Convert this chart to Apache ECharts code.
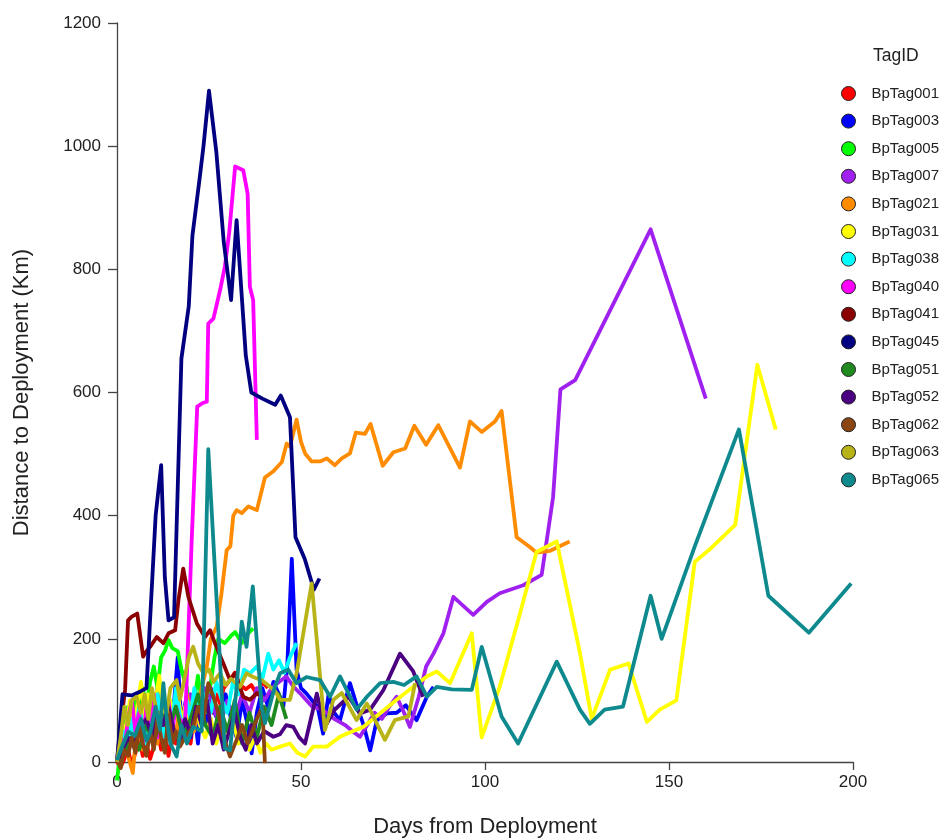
<!DOCTYPE html>
<html>
<head>
<meta charset="utf-8">
<script src="https://cdn.jsdelivr.net/npm/echarts@6/dist/echarts.min.js"></script>
<style>
html,body{margin:0;padding:0;background:#fff;}
#chart{width:945px;height:838px;}
</style>
</head>
<body>
<div id="chart"></div>
<script>
// ---- data: [days from deployment, distance km] ----
const tagNames = ["BpTag001","BpTag003","BpTag005","BpTag007","BpTag021","BpTag031","BpTag038","BpTag040","BpTag041","BpTag045","BpTag051","BpTag052","BpTag062","BpTag063","BpTag065"];
const tagColors = ["#FF0000","#0000FF","#00FF00","#A020F0","#FF8C00","#FFFF00","#00FFFF","#FF00FF","#8B0000","#000080","#1F8A1F","#4B0082","#8B4513","#B8B418","#0E8A8E"];
const xTicks = [0,50,100,150,200];
const yTicks = [0,200,400,600,800,1000,1200];

const bpTag001 = [[0,0],[1,-8],[2,5],[3,20],[4,-5],[5,15],[6,40],[7,10],[8,30],[9,5],[10,25],[11,50],[12,20],[13,40],[14,10],[15,45],[16,30],[17,70],[18,40],[19,60],[20,30],[21,80],[22,50],[23,90],[24,60],[25,100],[26,80],[27,110],[28,95],[29,120],[30.7,133],[32,145],[33.5,125],[35,118],[36.5,125],[38,110],[39.5,130],[41,120]];
const bpTag003 = [[0,0],[1,30],[2,60],[3,20],[4,80],[5,40],[6,100],[7,50],[8,30],[9,90],[10,60],[11,120],[12,70],[13,40],[14,90],[15,60],[16.5,170],[17.5,60],[19,110],[20,40],[21,80],[22,30],[23,100],[24,60],[25.5,120],[26.5,80],[28,60],[29.5,110],[31,70],[32.5,40],[34,100],[35.5,60],[36.6,14],[38,80],[39.5,120],[41,90],[42.5,130],[44,110],[45.2,90],[46.3,160],[47.5,330],[48.8,150],[50,120],[51.5,111],[53,100],[54.5,90],[56,46],[57.5,110],[59,80],[60.6,68],[63.3,128],[65,95],[67,60],[68.8,19],[70.6,68],[73.3,79],[76,80],[78.5,92],[81.4,68],[84.2,106],[86,122]];
const bpTag005 = [[0,-30],[1,20],[2,50],[3,90],[4,60],[5,100],[6,70],[7,120],[8,90],[9,130],[10,155],[11,120],[12,170],[13,180],[14,198],[15,185],[16.5,180],[17.5,150],[19,120],[20,60],[21,100],[22,140],[23,100],[24,80],[25.5,130],[26.5,170],[27.5,200],[29.3,193],[31,205],[32.1,211],[33.9,193],[35,205],[37,217]];
const bpTag007 = [[0,0],[2,30],[4,60],[6,40],[8,80],[10,50],[12,90],[14,60],[16,100],[18,70],[20,110],[22,80],[24,120],[26,90],[28,60],[30,100],[32,70],[34,110],[36,80],[38,120],[40,100],[42,120],[44,130],[46,139],[48,122],[50,110],[53,90],[56,85],[59,70],[62,60],[64,50],[66,41],[68,60],[70,80],[72,70],[74,90],[76,106],[78,80],[79.6,57],[82,106],[84,155],[86,176],[88.7,209],[91.4,268],[96.8,239],[100.5,260],[104,274],[110.4,287],[115.4,304],[118.5,430],[120.5,605],[124.5,620],[145,865],[160,590]];
const bpTag021 = [[0,0],[1,20],[2,40],[3,10],[4.3,-18],[5,30],[6,60],[7,20],[8,80],[9,40],[10,70],[11,30],[12,90],[13,50],[14,100],[15,70],[16,40],[17,90],[18,60],[19,110],[20,80],[21,50],[22,90],[23,120],[24.4,155],[25.5,200],[27.1,220],[28.4,274],[29.8,344],[30.8,350],[31.6,400],[32.5,409],[33.9,404],[35.7,415],[38,409],[40.2,462],[42.5,472],[44.8,487],[46.1,517],[47,512],[48.8,556],[50,520],[51.1,501],[52.9,488],[55.2,488],[57,493],[59.2,482],[61.1,493],[63.3,501],[64.9,535],[67.4,533],[68.9,549],[72.2,481],[75.1,503],[78.3,509],[80.8,546],[84,515],[87.3,547],[93.2,478],[95.9,553],[99.1,536],[102.7,553],[104.5,570],[108.6,365],[112,350],[114,340],[117.7,343],[123,358]];
const bpTag031 = [[0,0],[1,30],[2.6,63],[3.5,100],[4.5,50],[5.5,90],[6.5,130],[7.5,70],[8.5,110],[9.5,60],[10.5,100],[11.5,140],[12.5,80],[13.5,50],[14.5,100],[15.5,70],[16.5,120],[17.5,60],[18.5,90],[19.5,40],[20.5,80],[21.5,100],[22.5,60],[24,40],[25.5,70],[27,30],[28.5,60],[30,40],[31.5,70],[33,30],[34.5,50],[36,20],[37.5,40],[39,15],[40.5,30],[42,20],[44.3,25],[47,30],[49,15],[51.1,9],[53.3,25],[57,25],[60.6,41],[62.4,46],[66.9,57],[71.5,79],[76,101],[80.5,122],[84.2,139],[86.9,147],[90.5,128],[96.4,209],[99.1,40],[104,122],[109.5,241],[114,341],[119.5,358],[125.8,177],[129,70],[134,150],[139,160],[144,65],[147.5,85],[152,100],[157,325],[161,345],[168,385],[174,645],[179,540]];
const bpTag038 = [[0,0],[1,20],[2,50],[3,30],[4,70],[5,40],[6,90],[7,60],[8,30],[9,80],[10,50],[11,110],[12,70],[13,40],[14,90],[15,60],[16,120],[17,80],[18,50],[19,100],[20,70],[21,120],[22,90],[23,60],[24,110],[25.5,80],[27,130],[28.5,100],[30,80],[31.5,130],[33,110],[34.5,150],[36.1,144],[38,155],[39.5,135],[41.1,176],[42.5,150],[44,165],[45.5,145],[47,170],[48.8,193]];
const bpTag040 = [[0,0],[1,40],[2,20],[3,70],[4,100],[5,50],[6,80],[7,30],[8,90],[9,60],[10,110],[11,40],[12,80],[13,60],[14,100],[15,50],[16,90],[17,70],[18.5,60],[20.3,360],[21.8,577],[23.3,583],[24.4,585],[24.8,712],[26.2,720],[28,766],[29.3,804],[30.5,860],[32.1,967],[34.3,961],[35.5,923],[36.1,772],[37,750],[38,523]];
const bpTag041 = [[0,0],[1,60],[2.2,117],[3,230],[4,236],[5.5,241],[7.1,171],[8,180],[9,187],[10.8,203],[12.6,193],[14,209],[15.8,214],[16.7,263],[18,314],[19.4,268],[21.7,225],[23.9,203],[25.3,214],[26.6,193],[28.9,160],[30.7,133],[32.1,144],[34.3,106],[36.1,101],[38,112],[39.5,105]];
const bpTag045 = [[0,0],[1.5,110],[4,108],[6.5,115],[8,120],[10.5,400],[12,482],[13,300],[14,230],[15.5,235],[17.5,655],[19.5,740],[20.5,855],[22.5,950],[23.5,1000],[25,1090],[27,990],[29,845],[31,750],[32.5,880],[35,660],[36.5,600],[39.5,590],[43,580],[44.5,595],[47,560],[48.5,365],[51,330],[52.5,300],[53.5,280],[55,298]];
const bpTag051 = [[0,0],[2,15],[4,40],[6,20],[8,60],[10,30],[12,80],[14,50],[16,90],[18,40],[20,70],[22,110],[24,60],[26,40],[28,90],[30,50],[32,100],[34,30],[36,80],[38,40],[40,90],[42,60],[44,110],[46,70]];
const bpTag052 = [[0,0],[1.5,20],[3,40],[4.5,25],[6.3,57],[8,70],[9.5,40],[11,80],[12.5,60],[14,90],[15.5,50],[17,30],[18.5,70],[20,45],[21.5,90],[23,60],[24.5,100],[26,30],[27.5,60],[29,20],[30.5,50],[32,80],[33.5,40],[35,20],[36.5,60],[38,30],[40,50],[42.5,41],[44.3,45],[46,60],[47.9,57],[49.5,40],[51.1,30],[54.3,111],[56.5,57],[59.2,85],[62.9,106],[66,79],[68.8,85],[72.4,117],[76.9,176],[80.5,147],[83.2,106]];
const bpTag062 = [[0,5],[1,-10],[2,20],[3,10],[4,40],[5,15],[6,60],[7,30],[8,10],[9,50],[10,20],[11,70],[12,40],[13,15],[14,80],[15,30],[16,50],[17.1,25],[18.5,40],[20.7,57],[22,90],[23.5,70],[24.8,128],[26.2,106],[27.5,80],[29,40],[30.7,9],[32.5,36],[34,60],[35.5,30],[36.6,47],[38,70],[39.5,90],[40.2,-2]];
const bpTag063 = [[0,0],[1,40],[2,90],[3,60],[4,100],[5.3,106],[6.5,80],[7.5,110],[8.5,70],[9.5,120],[10.5,90],[11.5,60],[12.5,100],[13.5,80],[14.5,120],[16.2,133],[17.1,101],[18.5,140],[19.5,170],[20.7,187],[22,160],[23.5,144],[25,150],[26.2,130],[28,144],[29.5,125],[31,135],[33.4,122],[35.2,144],[37,138],[39.3,133],[41,125],[43,115],[44.3,101],[47,101],[48.8,144],[52.9,290],[56.5,52],[58.8,101],[61.1,112],[65.1,68],[67.9,95],[72.8,36],[75.5,68],[79.2,74],[81,128]];
const bpTag065 = [[0,3],[1.7,30],[3.1,49],[4.9,43],[6.5,70],[8,35],[9,47],[10.5,90],[11.7,52],[12.6,128],[13.5,70],[14.5,30],[16.2,9],[17.5,60],[19,30],[20.7,57],[23,50],[24.8,508],[29.3,22],[30.7,19],[32.5,120],[33.9,228],[35.2,187],[36.9,285],[39.3,90],[40.2,63],[42.9,122],[44.3,144],[46.5,150],[48.8,128],[51.5,138],[55.2,133],[57.9,106],[60.6,139],[65.1,85],[67.9,106],[71.5,128],[75.1,130],[78,125],[81.4,139],[84.2,106],[86.9,122],[91,118],[96.4,117],[99.1,187],[104.5,74],[109,30],[119.5,163],[125.8,85],[128.5,62],[132.5,85],[137.5,90],[145,270],[148,200],[157,350],[169,540],[177,270],[188,210],[199.5,290]];

const tagData = [bpTag001,bpTag003,bpTag005,bpTag007,bpTag021,bpTag031,bpTag038,bpTag040,bpTag041,bpTag045,bpTag051,bpTag052,bpTag062,bpTag063,bpTag065];

const FONT = "'Liberation Sans', Arial, sans-serif";
const chart = echarts.init(document.getElementById('chart'), null, {renderer:'canvas'});

const series = tagNames.map((n,i)=>({
  name:n, type:'line', data:tagData[i], showSymbol:false, clip:false,
  lineStyle:{width:3.8, color:tagColors[i], join:'round'},
  itemStyle:{color:tagColors[i]},
  emphasis:{disabled:true}
}));

chart.setOption({
  animation:false,
  backgroundColor:'#ffffff',
  title:{text:'TagID', left:868, top:42, textStyle:{fontFamily:FONT, fontSize:17.5, fontWeight:'normal', color:'#222'}},
  legend:{
    orient:'vertical', left:836, top:81, icon:'circle', itemWidth:14, itemHeight:14, itemGap:12.6,
    itemStyle:{borderColor:'#222', borderWidth:1},
    textStyle:{fontFamily:FONT, fontSize:15, color:'#222', padding:[0,0,0,11]},
    data:tagNames, selectedMode:false
  },
  grid:{left:117, right:92, top:23, bottom:76, containLabel:false, outerBoundsMode:'none'},
  xAxis:{
    type:'value', min:xTicks[0], max:xTicks[xTicks.length-1], interval:xTicks[1]-xTicks[0],
    name:'Days from Deployment', nameLocation:'middle', nameGap:54,
    nameTextStyle:{fontFamily:FONT, fontSize:22, color:'#222'},
    axisLine:{show:true, onZero:false, lineStyle:{color:'#444', width:1.3}},
    axisTick:{show:true, length:8, lineStyle:{color:'#444', width:1.3}},
    axisLabel:{fontFamily:FONT, fontSize:17, color:'#222', margin:12, formatter:v=>String(v)},
    splitLine:{show:false}
  },
  yAxis:{
    type:'value', min:yTicks[0], max:yTicks[yTicks.length-1], interval:yTicks[1]-yTicks[0],
    name:'Distance to Deployment (Km)', nameLocation:'middle', nameGap:84,
    nameTextStyle:{fontFamily:FONT, fontSize:22, color:'#222'},
    axisLine:{show:true, onZero:false, lineStyle:{color:'#444', width:1.3}},
    axisTick:{show:true, length:9, lineStyle:{color:'#444', width:1.3}},
    axisLabel:{fontFamily:FONT, fontSize:17, color:'#222', margin:16, formatter:v=>String(v)},
    splitLine:{show:false}
  },
  series:series
});
</script>
</body>
</html>
